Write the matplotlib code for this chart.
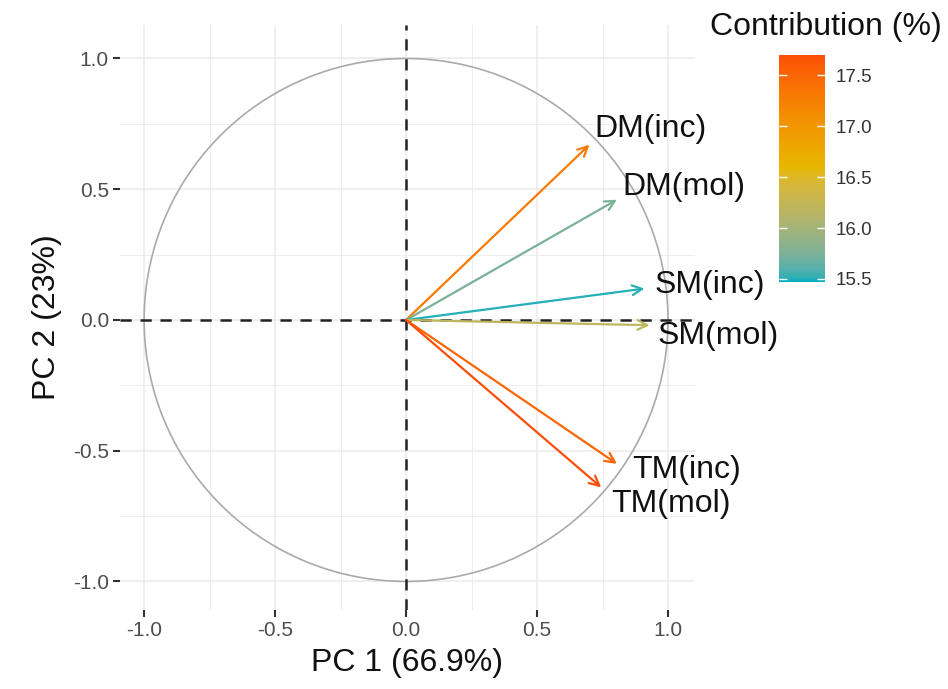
import numpy as np
import matplotlib.pyplot as plt
from matplotlib.colors import ListedColormap, Normalize, to_rgb
from matplotlib.cm import ScalarMappable

plt.rcParams['font.family'] = ['Liberation Sans', 'DejaVu Sans']

# Variables and their coordinates on the first two components
variables = ["DM(inc)", "DM(mol)", "SM(inc)", "SM(mol)", "TM(inc)", "TM(mol)"]
pc1 = [0.70, 0.805, 0.91, 0.93, 0.805, 0.745]
pc2 = [0.67, 0.46, 0.12, -0.02, -0.55, -0.64]
contrib = [17.3, 15.75, 15.5, 16.2, 17.5, 17.7]

# Label offsets from the arrow tips
label_dx = [0.02, 0.02, 0.04, 0.03, 0.06, 0.04]
label_dy = [0.06, 0.05, 0.015, -0.04, -0.025, -0.065]

var_pc1 = 66.9
var_pc2 = 23

gradient_cols = ["#00AFBB", "#E7B800", "#FC4E07"]
cbar_ticks = [15.5, 16.0, 16.5, 17.0, 17.5]
cmin, cmax = 15.47, 17.70


# gradient built in Lab space, like scale_color_gradientn
def srgb_to_lab(rgb):
    rgb = np.asarray(rgb, float)
    lin = np.where(rgb <= 0.04045, rgb / 12.92, ((rgb + 0.055) / 1.055) ** 2.4)
    m = np.array([[0.4124, 0.3576, 0.1805],
                  [0.2126, 0.7152, 0.0722],
                  [0.0193, 0.1192, 0.9505]])
    xyz = lin @ m.T / np.array([0.95047, 1.0, 1.08883])
    f = np.where(xyz > 0.008856, np.cbrt(xyz), 7.787 * xyz + 16 / 116)
    return np.stack([116 * f[..., 1] - 16,
                     500 * (f[..., 0] - f[..., 1]),
                     200 * (f[..., 1] - f[..., 2])], axis=-1)


def lab_to_srgb(lab):
    lab = np.asarray(lab, float)
    fy = (lab[..., 0] + 16) / 116
    fx = fy + lab[..., 1] / 500
    fz = fy - lab[..., 2] / 200
    f = np.stack([fx, fy, fz], axis=-1)
    xyz = np.where(f ** 3 > 0.008856, f ** 3, (f - 16 / 116) / 7.787)
    xyz = xyz * np.array([0.95047, 1.0, 1.08883])
    m = np.array([[3.2406, -1.5372, -0.4986],
                  [-0.9689, 1.8758, 0.0415],
                  [0.0557, -0.2040, 1.0570]])
    lin = xyz @ m.T
    rgb = np.where(lin <= 0.0031308, 12.92 * lin, 1.055 * np.clip(lin, 0, None) ** (1 / 2.4) - 0.055)
    return np.clip(rgb, 0, 1)


labs = srgb_to_lab([to_rgb(c) for c in gradient_cols])
pos = np.linspace(0, 1, len(gradient_cols))
tt = np.linspace(0, 1, 256)
lab_steps = np.stack([np.interp(tt, pos, labs[:, k]) for k in range(3)], axis=-1)
cmap = ListedColormap(lab_to_srgb(lab_steps))
norm = Normalize(vmin=cmin, vmax=cmax)

fig = plt.figure(figsize=(9.48, 6.89), dpi=100)
ax = fig.add_axes([0.1266, 0.1147, 0.6065, 0.849])

ax.set_xlim(-1.092, 1.103)
ax.set_ylim(-1.109, 1.128)

# grid
for v in np.arange(-1.0, 1.01, 0.25):
    major = abs(v * 2 - round(v * 2)) < 1e-9
    ax.axvline(v, color="#EBEBEB", lw=1.1 if major else 0.6, zorder=0)
    ax.axhline(v, color="#EBEBEB", lw=1.1 if major else 0.6, zorder=0)

# correlation circle
t = np.linspace(0, 2 * np.pi, 400)
ax.plot(np.cos(t), np.sin(t), color="#AAAAAA", lw=1.2, zorder=1)

ax.axhline(0, color="#222222", ls=(0, (4.5, 3.5)), lw=1.8, zorder=2)
ax.axvline(0, color="#222222", ls=(0, (4.5, 3.5)), lw=1.8, zorder=2)

for name, x, y, c, dx, dy in zip(variables, pc1, pc2, contrib, label_dx, label_dy):
    col = cmap(norm(c))
    ax.annotate("", xy=(x, y), xytext=(0, 0),
                arrowprops=dict(arrowstyle="->,head_length=0.7,head_width=0.35",
                                color=col, lw=1.6, shrinkA=0, shrinkB=0),
                zorder=3)
    ax.text(x + dx, y + dy, name, fontsize=23, color="#111111",
            ha="left", va="center", zorder=4)

for s in ax.spines.values():
    s.set_visible(False)

ax.set_xticks([-1.0, -0.5, 0.0, 0.5, 1.0])
ax.set_yticks([-1.0, -0.5, 0.0, 0.5, 1.0])
ax.set_xticklabels(["-1.0", "-0.5", "0.0", "0.5", "1.0"])
ax.set_yticklabels(["-1.0", "-0.5", "0.0", "0.5", "1.0"])
ax.tick_params(length=5, width=1.5, color="#333333", labelcolor="#4D4D4D",
               labelsize=15, pad=3)

ax.set_xlabel(f"PC 1 ({var_pc1}%)", fontsize=23, color="#111111", labelpad=6)
ax.set_ylabel(f"PC 2 ({var_pc2}%)", fontsize=23, color="#111111", labelpad=8)

# colour bar
cax = fig.add_axes([779 / 948, 1 - 282 / 689, 46 / 948, 227 / 689])
sm = ScalarMappable(norm=norm, cmap=cmap)
cb = fig.colorbar(sm, cax=cax, ticks=cbar_ticks)
cb.outline.set_visible(False)
cb.ax.yaxis.set_ticks_position("both")
cb.ax.tick_params(direction="in", length=6, width=1, color="white",
                  labelsize=13.5, labelcolor="#333333", labelright=True,
                  labelleft=False, pad=8)
cb.ax.set_yticklabels([f"{v:.1f}" for v in cbar_ticks])
fig.text(710 / 948, 1 - 27 / 689, "Contribution (%)", fontsize=23,
         color="#111111", ha="left", va="center")

fig.savefig("out.png", dpi=100, facecolor="white")
